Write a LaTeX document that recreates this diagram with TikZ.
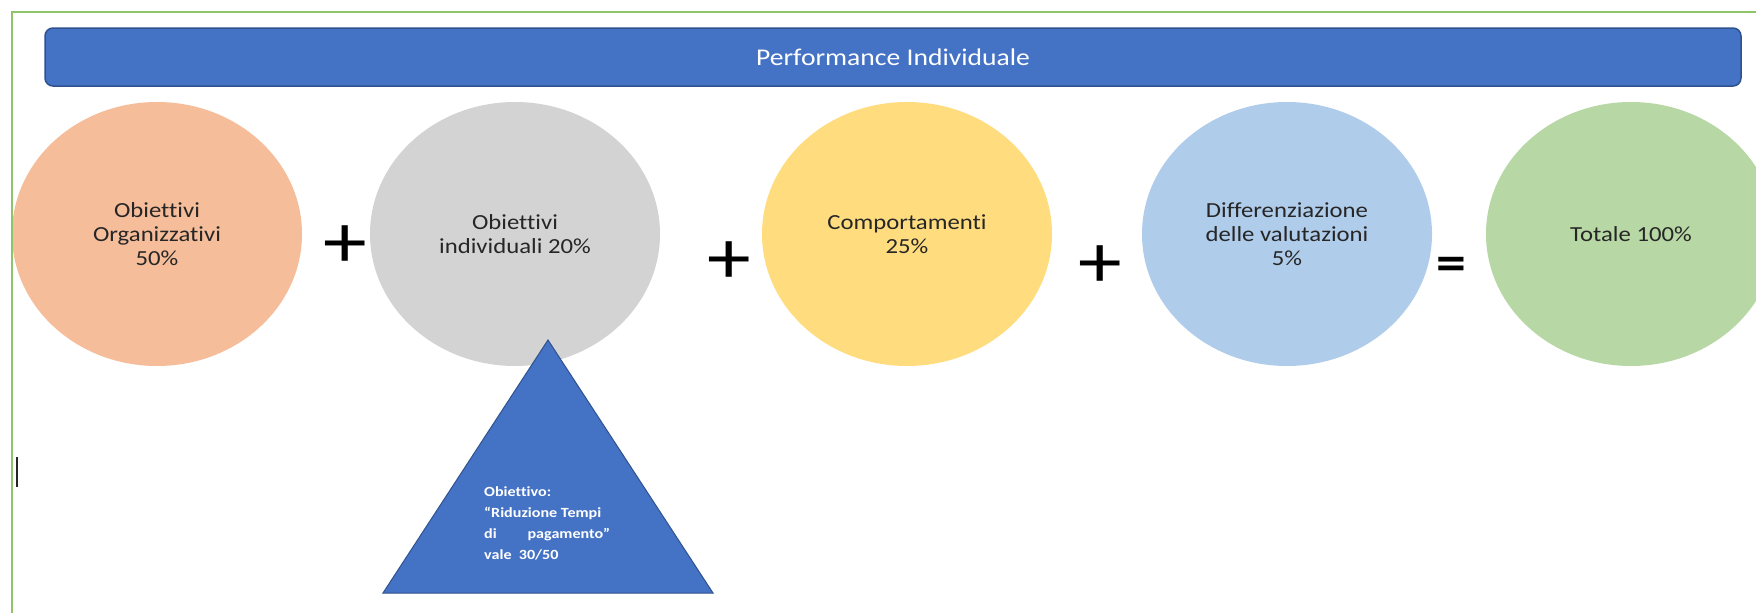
\documentclass[tikz,border=0pt]{standalone}
\usepackage{fontspec}
\setmainfont{Carlito}[FakeStretch=1.15, Ligatures=NoCommon]
\usetikzlibrary{shapes.geometric}
\definecolor{bannerblue}{HTML}{4472C4}
\definecolor{banneredge}{HTML}{2F528F}
\definecolor{framegreen}{HTML}{8FC46A}
\definecolor{peach}{HTML}{F5BD99}
\definecolor{lgray}{HTML}{D3D3D3}
\definecolor{lyellow}{HTML}{FFDC7E}
\definecolor{lblue}{HTML}{AFCCEA}
\definecolor{lgreen}{HTML}{B7D7A5}
\definecolor{inktext}{HTML}{262626}
\begin{document}
\begin{tikzpicture}[x=1pt,y=-1pt,
  blob/.style={ellipse, minimum width=290pt, minimum height=264pt, inner sep=0pt,
    align=center, text=inktext, font=\fontsize{21.5}{24}\selectfont},
  banner/.style={rectangle, rounded corners=8pt, fill=bannerblue, draw=banneredge,
    line width=1.5pt, minimum width=1696pt, minimum height=58pt, inner sep=0pt,
    text=white, font=\fontsize{24}{28}\selectfont},
  opsign/.style={inner sep=0pt, text=black, font=\fontsize{76}{76}\selectfont},
  eqsign/.style={inner sep=0pt, text=black, font=\bfseries\fontsize{52}{52}\selectfont},
  tri/.style={fill=bannerblue, draw=banneredge, line width=1pt, line join=miter},
  tritext/.style={inner sep=0pt, align=left, text=white,
    font=\bfseries\fontsize{14}{21}\selectfont},
  frame/.style={draw=framegreen, line width=2pt},
  cursorbar/.style={draw=black!85, line width=2pt}
]
\useasboundingbox (0,0) rectangle (1756,613);
\fill[white] (0,0) rectangle (1756,613);

% title banner
\node[banner] (title) at (893,57) {Performance Individuale};

% ellipses
\node[blob, fill=peach]   (org)  at (157,234) {Obiettivi\\Organizzativi\\50\%};
\node[blob, fill=lgray]   (ind)  at (515,234) {Obiettivi\\individuali 20\%};
\node[blob, fill=lyellow] (comp) at (907,234) {Comportamenti\\25\%};
\node[blob, fill=lblue]   (diff) at (1287,234) {Differenziazione\\delle valutazioni\\5\%};
\node[blob, fill=lgreen]  (tot)  at (1631,234) {Totale 100\%};

% operators
\node[opsign] (p1) at (345,247) {+};
\node[opsign] (p2) at (729,263) {+};
\node[opsign] (p3) at (1100,267) {+};
\node[eqsign] (eq) at (1451,269) {=};

% triangle
\path[tri] (548,340) -- (713,593) -- (383,593) -- cycle;
\node[tritext, anchor=north west] (goal) at (484,486)
  {Obiettivo:\\“Riduzione Tempi\\\makebox[126pt][l]{di\hfill pagamento”}\\vale\ \ 30/50};

% frame and cursor
\draw[frame] (1756,11.5) -- (11.5,11.5) -- (11.5,613);
\draw[cursorbar] (17,457) -- (17,487);
\end{tikzpicture}
\end{document}
